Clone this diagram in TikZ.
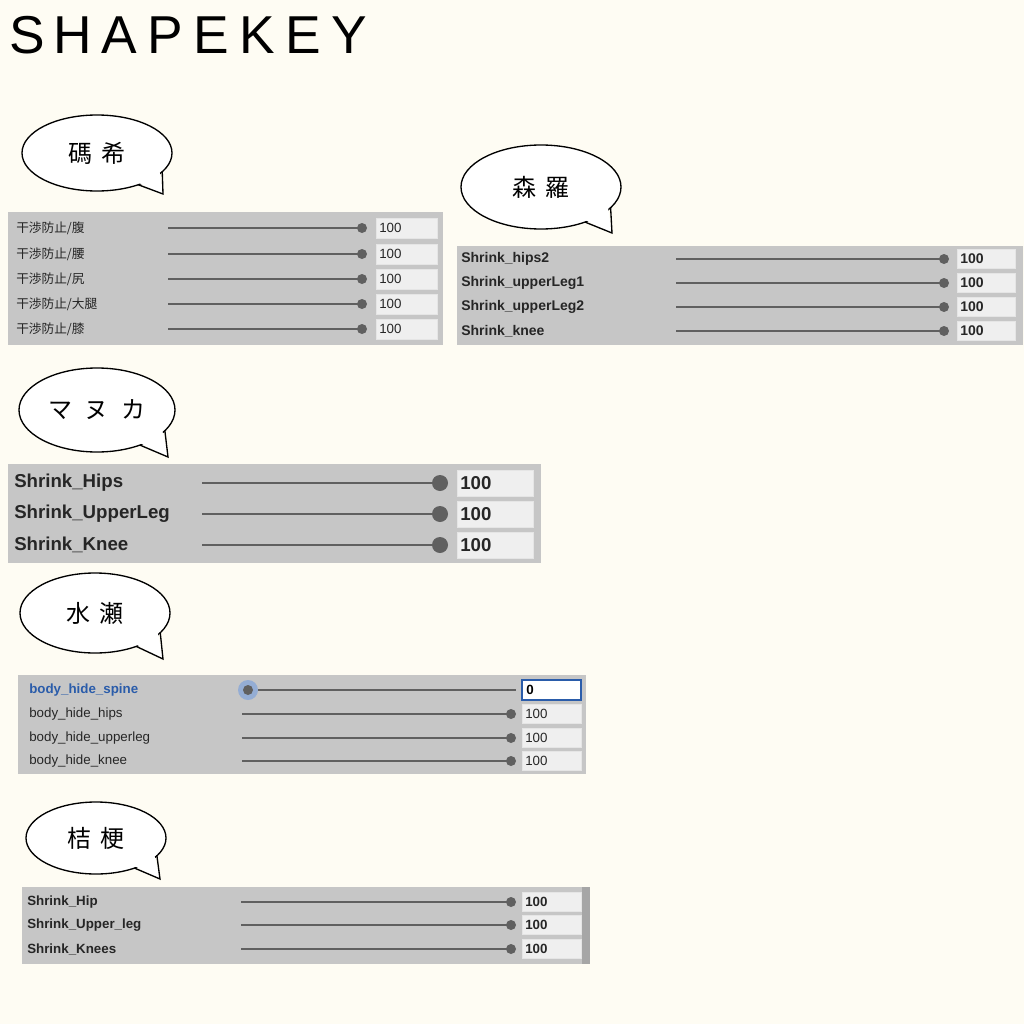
\documentclass[tikz,border=0pt]{standalone}
\usepackage{fontspec}
\setmainfont{Liberation Sans}
\newfontfamily\cjk{Noto Sans CJK JP}
\usetikzlibrary{positioning,calc}
\definecolor{paper}{HTML}{FEFCF3}
\definecolor{panelgray}{HTML}{C6C6C6}
\definecolor{boxgray}{HTML}{EFEFEF}
\definecolor{knobgray}{HTML}{606060}
\definecolor{selblue}{HTML}{2A5CAA}
\tikzset{
  panel/.style={fill=panelgray, draw=none},
  track/.style={draw=knobgray, line width=1.2pt},
  valbox/.style={fill=boxgray, draw=white!80!gray, line width=0.4pt},
  bubble/.style={fill=white, draw=black, line width=1pt},
  keylabel/.style={anchor=west, inner sep=0pt, text=black!85},
}
% \slider{y}{line from}{line to}{box x}{box w}{box h}{knob r}{value}
\newcommand{\slider}[8]{
  \draw[track] (#2,#1) -- (#3,#1);
  \fill[knobgray] (#3,#1) circle (#7);
  \draw[valbox] (#4,#1-#6/2) rectangle ++(#5,#6);
  \node[anchor=west, inner sep=0pt, text=black!85] at (#4+3,#1) {#8};
}
% \speech{name}{centre}{rx}{ry}{tip}{text}
\newcommand{\speech}[6]{
  \draw[bubble] #2 ellipse ({#3} and {#4});
  \coordinate (#1-a) at ($#2+(0.87*#3,0.49*#4)$);
  \coordinate (#1-b) at ($#2+(0.55*#3,0.835*#4)$);
  \fill[white] ($(#1-a)+(-3,-2)$) -- #5 -- ($(#1-b)+(-2,-3)$) -- cycle;
  \draw[line width=1pt] (#1-a) -- #5 -- (#1-b);
  \node (#1) at #2 {\cjk\fontsize{18}{20}\selectfont #6};
}
\begin{document}
\begin{tikzpicture}[x=0.75pt, y=-0.75pt]
  \useasboundingbox (0,0) rectangle (1024,1024);
  \fill[paper] (0,0) rectangle (1024,1024);

  % title
  \foreach \ch [count=\i from 0] in {S,H,A,P,E,K,E,Y}
    \node[font=\fontsize{40}{40}\selectfont] (title\i) at (27+\i*46,35) {\ch};

  % Maki
  \speech{maki}{(97,153)}{75}{38}{(163,194)}{碼\, 希}
  \fill[panel] (8,212) rectangle (443,345);
  \foreach \y/\t [count=\i] in {228/腹,254/腰,279/尻,304/大腿,329/膝}{
    \node[keylabel, font=\cjk\fontsize{9.5}{10}\selectfont] (maki\i) at (16,\y) {干渉防止/\t};
    \slider{\y}{168}{362}{376}{61}{20}{5}{\fontsize{10}{10}\selectfont 100}
  }

  % Shinra
  \speech{shinra}{(541,187)}{80}{42}{(612,233)}{森\, 羅}
  \fill[panel] (457,246) rectangle (1023,345);
  \foreach \y/\t [count=\i] in {259/Shrink\_hips2,283/Shrink\_upperLeg1,307/Shrink\_upperLeg2,331/Shrink\_knee}{
    \node[keylabel, font=\bfseries\fontsize{10.5}{11}\selectfont] (shinra\i) at (461,\y) {\t};
    \slider{\y}{676}{944}{957}{58}{19}{5}{\bfseries\fontsize{10.5}{11}\selectfont 100}
  }

  % Manuka
  \speech{manuka}{(97,410)}{78}{42}{(168,457)}{マ\; ヌ\; カ}
  \fill[panel] (8,464) rectangle (541,563);
  \foreach \y/\t [count=\i] in {483/Shrink\_Hips,514/Shrink\_UpperLeg,545/Shrink\_Knee}{
    \node[keylabel, font=\bfseries\fontsize{14}{15}\selectfont] (manuka\i) at (14,\y) {\t};
    \slider{\y}{202}{440}{457}{76}{26}{8}{\bfseries\fontsize{14}{15}\selectfont 100}
  }

  % Minase
  \speech{minase}{(95,613)}{75}{40}{(163,659)}{水\, 瀬}
  \fill[panel] (18,675) rectangle (586,774);
  \node[keylabel, text=selblue, font=\bfseries\fontsize{10}{11}\selectfont] (minase1) at (29,690) {body\_hide\_spine};
  \draw[track] (248,690) -- (516,690);
  \fill[selblue!50] (248,690) circle (10);
  \fill[knobgray] (248,690) circle (5);
  \draw[fill=white, draw=selblue, line width=1pt] (522,680) rectangle (581,700);
  \node[anchor=west, inner sep=0pt, font=\bfseries\fontsize{10}{11}\selectfont] at (526,690) {0};
  \foreach \y/\t [count=\i from 2] in {714/body\_hide\_hips,738/body\_hide\_upperleg,761/body\_hide\_knee}{
    \node[keylabel, font=\fontsize{10}{11}\selectfont] (minase\i) at (29,\y) {\t};
    \slider{\y}{242}{511}{522}{59}{19}{5}{\fontsize{10}{11}\selectfont 100}
  }

  % Kikyo
  \speech{kikyo}{(96,838)}{70}{36}{(160,879)}{桔\, 梗}
  \fill[panel] (22,887) rectangle (590,964);
  \fill[gray!70] (582,887) rectangle (590,964);
  \foreach \y/\t [count=\i] in {902/Shrink\_Hip,925/Shrink\_Upper\_leg,949/Shrink\_Knees}{
    \node[keylabel, font=\bfseries\fontsize{10}{11}\selectfont] (kikyo\i) at (27,\y) {\t};
    \slider{\y}{241}{511}{522}{59}{19}{5}{\bfseries\fontsize{10}{11}\selectfont 100}
  }
\end{tikzpicture}
\end{document}
